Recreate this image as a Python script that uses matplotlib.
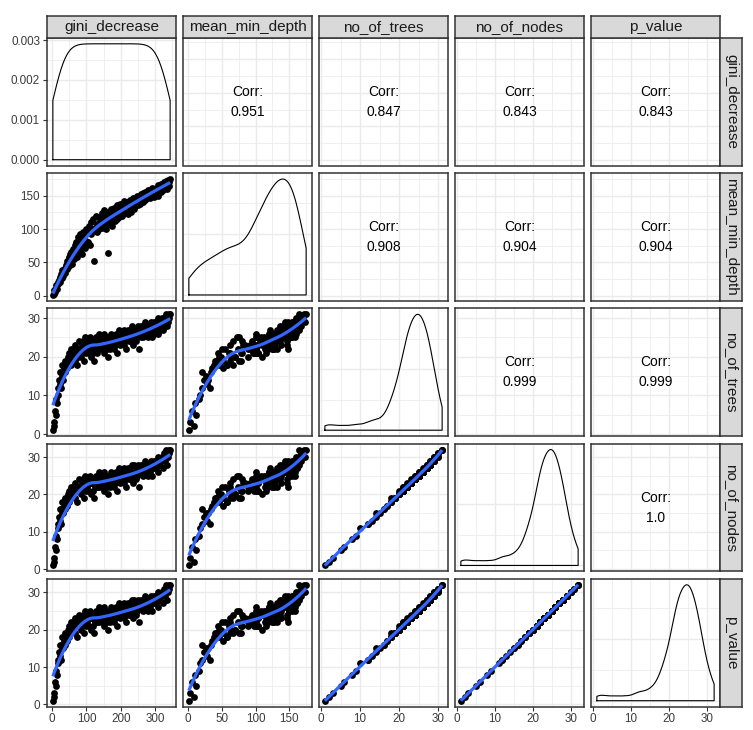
import numpy as np
import matplotlib
matplotlib.use("Agg")
import matplotlib.pyplot as plt
from matplotlib.ticker import MultipleLocator, MaxNLocator, AutoMinorLocator, FormatStrFormatter

plt.rcParams['font.family'] = ['Liberation Sans', 'DejaVu Sans']

var_names = ["gini_decrease", "mean_min_depth", "no_of_trees", "no_of_nodes", "p_value"]

gini_decrease = [2, 4, 6, 8, 10, 12, 14, 16, 18, 20,
                 22, 24, 26, 28, 30, 32, 34, 36, 38, 40,
                 42, 44, 46, 48, 50, 52, 54, 56, 58, 60,
                 62, 64, 66, 68, 70, 72, 74, 76, 78, 80,
                 82, 84, 86, 88, 90, 92, 94, 96, 98, 100,
                 102, 104, 106, 108, 110, 112, 114, 116, 118, 120,
                 122, 124, 126, 128, 130, 132, 134, 136, 138, 140,
                 142, 144, 146, 148, 150, 152, 154, 156, 158, 160,
                 162, 164, 166, 168, 170, 172, 174, 176, 178, 180,
                 182, 184, 186, 188, 190, 192, 194, 196, 198, 200,
                 202, 204, 206, 208, 210, 212, 214, 216, 218, 220,
                 222, 224, 226, 228, 230, 232, 234, 236, 238, 240,
                 242, 244, 246, 248, 250, 252, 254, 256, 258, 260,
                 262, 264, 266, 268, 270, 272, 274, 276, 278, 280,
                 282, 284, 286, 288, 290, 292, 294, 296, 298, 300,
                 302, 304, 306, 308, 310, 312, 314, 316, 318, 320,
                 322, 324, 326, 328, 330, 332, 334, 336, 338, 340,
                 342, 344]

mean_min_depth = [1, 3, 8, 5, 12, 16, 10, 20, 18, 24,
                  28, 20, 33, 26, 38, 30, 35, 42, 34, 46,
                  40, 52, 46, 58, 44, 62, 50, 66, 48, 60,
                  70, 55, 76, 62, 80, 58, 74, 88, 66, 78,
                  92, 70, 84, 62, 95, 78, 88, 72, 100, 82,
                  95, 80, 104, 98, 76, 110, 92, 100, 115, 98,
                  52, 102, 100, 120, 96, 108, 104, 118, 100, 112,
                  106, 124, 102, 115, 128, 104, 120, 110, 100, 126,
                  118, 64, 108, 125, 114, 130, 104, 122, 116, 132,
                  112, 128, 120, 136, 115, 126, 132, 118, 138, 124,
                  132, 120, 138, 127, 142, 124, 134, 128, 140, 122,
                  136, 128, 144, 132, 126, 140, 135, 146, 130, 142,
                  134, 146, 140, 150, 136, 144, 148, 138, 152, 142,
                  146, 154, 140, 150, 156, 144, 152, 146, 158, 150,
                  152, 158, 146, 156, 162, 150, 155, 160, 148, 158,
                  162, 154, 160, 150, 166, 158, 164, 156, 168, 160,
                  164, 158, 170, 162, 166, 172, 160, 168, 174, 165,
                  170, 175]

no_of_trees = [1, 3, 2, 6, 5, 9, 8, 12, 10, 14,
               13, 16, 12, 15, 18, 14, 17, 19, 16, 18,
               19, 17, 20, 18, 21, 19, 22, 18, 20, 21,
               20, 22, 19, 23, 21, 18, 22, 20, 24, 21,
               22, 20, 23, 21, 24, 19, 22, 25, 21, 23,
               22, 24, 21, 23, 25, 20, 23, 22, 24, 21,
               19, 23, 22, 25, 21, 24, 23, 22, 26, 24,
               24, 22, 25, 23, 26, 21, 24, 23, 25, 22,
               23, 20, 25, 24, 22, 26, 23, 25, 24, 22,
               25, 23, 26, 24, 21, 25, 27, 24, 23, 26,
               24, 26, 25, 23, 27, 24, 26, 22, 25, 27,
               25, 24, 27, 26, 24, 28, 25, 23, 26, 27,
               26, 24, 27, 25, 28, 26, 22, 27, 25, 28,
               27, 25, 28, 26, 27, 29, 26, 28, 25, 27,
               28, 26, 27, 29, 27, 25, 28, 26, 29, 28,
               27, 29, 28, 26, 30, 28, 27, 29, 28, 30,
               29, 27, 30, 28, 29, 31, 28, 30, 29, 31,
               30, 31]

no_of_nodes = [1, 3, 2, 6, 5, 9, 8, 12, 11, 14,
               13, 16, 12, 15, 18, 15, 17, 19, 16, 18,
               19, 17, 20, 18, 21, 19, 22, 19, 20, 21,
               20, 22, 19, 23, 21, 18, 22, 21, 24, 21,
               22, 20, 23, 22, 24, 19, 22, 25, 21, 23,
               22, 24, 21, 23, 25, 20, 23, 23, 24, 21,
               19, 23, 22, 25, 22, 24, 23, 22, 26, 24,
               24, 22, 25, 23, 26, 21, 24, 24, 25, 22,
               23, 20, 25, 24, 22, 26, 23, 25, 25, 22,
               25, 23, 26, 24, 21, 25, 27, 25, 23, 26,
               24, 26, 25, 23, 27, 24, 26, 22, 26, 27,
               25, 24, 27, 26, 24, 28, 25, 23, 26, 28,
               26, 24, 27, 25, 28, 26, 22, 27, 26, 28,
               27, 25, 28, 26, 27, 29, 26, 28, 25, 28,
               28, 26, 27, 29, 27, 25, 28, 27, 29, 28,
               27, 29, 28, 26, 30, 28, 28, 29, 29, 30,
               30, 27, 31, 29, 30, 32, 28, 31, 30, 32,
               31, 32]

p_value = [1, 3, 2, 6, 5, 9, 8, 12, 11, 14,
           13, 16, 12, 15, 18, 15, 17, 19, 16, 18,
           19, 17, 20, 18, 21, 19, 22, 19, 20, 21,
           20, 22, 19, 23, 21, 18, 22, 21, 24, 21,
           22, 20, 23, 22, 24, 19, 22, 25, 21, 23,
           22, 24, 21, 23, 25, 20, 23, 23, 24, 21,
           19, 23, 22, 25, 22, 24, 23, 22, 26, 24,
           24, 22, 25, 23, 26, 21, 24, 24, 25, 22,
           23, 20, 25, 24, 22, 26, 23, 25, 25, 22,
           25, 23, 26, 24, 21, 25, 27, 25, 23, 26,
           24, 26, 25, 23, 27, 24, 26, 22, 26, 27,
           25, 24, 27, 26, 24, 28, 25, 23, 26, 28,
           26, 24, 27, 25, 28, 26, 22, 27, 26, 28,
           27, 25, 28, 26, 27, 29, 26, 28, 25, 28,
           28, 26, 27, 29, 27, 25, 28, 27, 29, 28,
           27, 29, 28, 26, 30, 28, 28, 29, 29, 30,
           30, 27, 31, 29, 30, 32, 28, 31, 30, 32,
           31, 32]

# upper-triangle correlation labels (row, col, text)
corr_rows = [0, 0, 0, 0, 1, 1, 1, 2, 2, 3]
corr_cols = [1, 2, 3, 4, 2, 3, 4, 3, 4, 4]
corr_text = ["0.951", "0.847", "0.843", "0.843", "0.908", "0.904", "0.904", "0.999", "0.999", "1.0"]

major_steps = [100, 50, 10, 10, 10]

data = [np.array(v, dtype=float) for v in (gini_decrease, mean_min_depth, no_of_trees, no_of_nodes, p_value)]
nv = len(data)


def lims(v):
    lo, hi = v.min(), v.max()
    r = hi - lo
    return lo - 0.05 * r, hi + 0.05 * r


def kde(v):
    n = len(v)
    sd = v.std(ddof=1)
    iqr = np.percentile(v, 75) - np.percentile(v, 25)
    bw = 0.9 * min(sd, iqr / 1.34) * n ** (-0.2)
    xs = np.linspace(v.min(), v.max(), 512)
    d = np.exp(-0.5 * ((xs[:, None] - v[None, :]) / bw) ** 2).sum(axis=1) / (n * bw * np.sqrt(2 * np.pi))
    return xs, d


def loess(x, y, span=0.75, npts=80):
    n = len(x)
    q = int(np.floor(n * span))
    xs = np.linspace(x.min(), x.max(), npts)
    out = []
    for x0 in xs:
        d = np.abs(x - x0)
        h = np.sort(d)[q - 1]
        w = np.clip(1 - (d / h) ** 3, 0, None) ** 3
        c = np.polyfit(x - x0, y, 2, w=np.sqrt(w))
        out.append(c[-1])
    return xs, np.array(out)


W, H = 753, 730
fig = plt.figure(figsize=(W / 100, H / 100), dpi=100)
fig.patch.set_facecolor("white")

lefts = [47 + 136 * j for j in range(nv)]
tops = [38 + 135.25 * i for i in range(nv)]
pw, ph = 129, 127.5


def rect(l, t, w, h):
    return [l / W, (H - t - h) / H, w / W, h / H]


border = "#333333"
gridc = "#EBEBEB"
tickc = "#3C3C3C"

for i in range(nv):
    for j in range(nv):
        ax = fig.add_axes(rect(lefts[j], tops[i], pw, ph))
        ax.set_facecolor("white")
        for s in ax.spines.values():
            s.set_color(border)
            s.set_linewidth(1.1)
        xl = lims(data[j])
        ax.set_xlim(xl)
        ax.xaxis.set_major_locator(MultipleLocator(major_steps[j]))
        ax.xaxis.set_minor_locator(MultipleLocator(major_steps[j] / 2))
        if i == j:
            xs, d = kde(data[j])
            M = d.max()
            ax.set_ylim(-0.05 * M, 1.05 * M)
            ax.yaxis.set_major_locator(MaxNLocator(nbins=4, steps=[1, 2, 2.5, 5, 10]))
            ax.yaxis.set_minor_locator(AutoMinorLocator(2))
            px = np.concatenate([[xs[0]], xs, [xs[-1], xs[0]]])
            py = np.concatenate([[0], d, [0, 0]])
            ax.plot(px, py, color="black", lw=0.8, zorder=3)
            if j == 0:
                ax.yaxis.set_major_formatter(FormatStrFormatter("%.3f"))
        else:
            ax.set_ylim(lims(data[i]))
            ax.yaxis.set_major_locator(MultipleLocator(major_steps[i]))
            ax.yaxis.set_minor_locator(MultipleLocator(major_steps[i] / 2))
            if i > j:
                ax.scatter(data[j], data[i], s=24, c="black", linewidths=0, zorder=2)
                sx, sy = loess(data[j], data[i])
                ax.plot(sx, sy, color="#3366FF", lw=2.3, zorder=3, solid_capstyle="butt")
        ax.grid(which="major", color=gridc, lw=1.05, zorder=0)
        ax.grid(which="minor", color=gridc, lw=0.55, zorder=0)
        ax.set_axisbelow(True)
        ax.tick_params(which="minor", length=0)
        ax.tick_params(which="major", colors=border, labelcolor=tickc, labelsize=8.4,
                       length=3, width=0.8, pad=2)
        if i == nv - 1:
            ax.tick_params(axis="x", bottom=True, labelbottom=True)
        else:
            ax.tick_params(axis="x", bottom=False, labelbottom=False)
        if j == 0:
            ax.tick_params(axis="y", left=True, labelleft=True)
        else:
            ax.tick_params(axis="y", left=False, labelleft=False)

for k in range(len(corr_text)):
    i, j = corr_rows[k], corr_cols[k]
    l, t = lefts[j], tops[i]
    cx = (l + pw / 2) / W
    fig.text(cx, (H - (t + ph / 2 - 10)) / H, "Corr:", ha="center", va="center", fontsize=10, color="black")
    fig.text(cx, (H - (t + ph / 2 + 10)) / H, corr_text[k], ha="center", va="center", fontsize=10, color="black")

# strips
for j in range(nv):
    sax = fig.add_axes(rect(lefts[j], 16, pw, 22))
    sax.set_facecolor("#D9D9D9")
    sax.set_xticks([]); sax.set_yticks([])
    for s in sax.spines.values():
        s.set_color(border); s.set_linewidth(1.1)
    sax.text(0.5, 0.5, var_names[j], ha="center", va="center", fontsize=11,
             color="#1A1A1A", transform=sax.transAxes)
for i in range(nv):
    sax = fig.add_axes(rect(720, tops[i], 22, ph))
    sax.set_facecolor("#D9D9D9")
    sax.set_xticks([]); sax.set_yticks([])
    for s in sax.spines.values():
        s.set_color(border); s.set_linewidth(1.1)
    sax.text(0.5, 0.5, var_names[i], ha="center", va="center", fontsize=11, rotation=270,
             color="#1A1A1A", transform=sax.transAxes)

fig.savefig("out.png", dpi=100, facecolor="white")
